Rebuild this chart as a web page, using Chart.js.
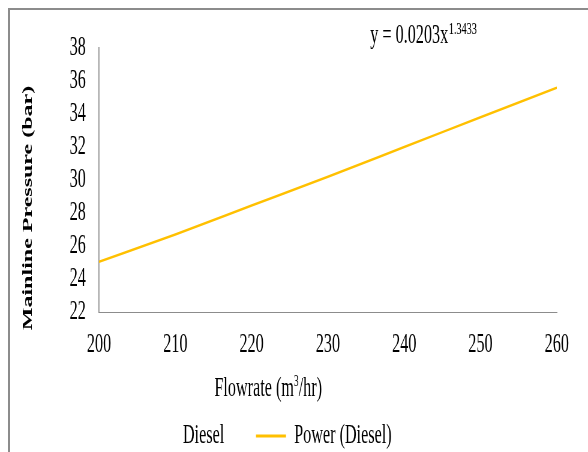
<!DOCTYPE html>
<html>
<head>
<meta charset="utf-8">
<script src="https://cdn.jsdelivr.net/npm/chart.js@4.4.1/dist/chart.umd.min.js"></script>
<style>
  html, body { margin:0; padding:0; background:#fff; overflow:hidden; }
  body { width:588px; height:452px; position:relative; }
  #frame { position:absolute; left:8px; top:8px; width:700px; height:600px; border-left:2px solid #8c8c8c; border-top:2px solid #8c8c8c; }
  /* the reference is squeezed sideways, so draw wide and scale down */
  #wrap { position:absolute; left:0; top:0; width:980px; height:452px; transform:scaleX(0.6); transform-origin:0 0; }
</style>
</head>
<body>
<div id="frame"></div>
<div id="wrap"><canvas id="chart"></canvas></div>
<script>
(function(){
  var flowrate = [200, 210, 220, 230, 240, 250, 260];
  var powerDiesel = [25.05, 26.7, 28.45, 30.2, 32.0, 33.8, 35.6];
  var xTicks = [200, 210, 220, 230, 240, 250, 260];
  var yTicks = [22, 24, 26, 28, 30, 32, 34, 36, 38];
  var seriesNames = ["Diesel", "Power (Diesel)"];
  var xTitle = ["Flowrate (m", "3", "/hr)"];
  var yTitle = "Mainline Pressure (bar)";
  var equation = ["y = 0.0203x", "1.3433"];

  var SERIF = "'Liberation Serif', 'Times New Roman', serif";
  var AXIS = "#8c8c8c";
  var ORANGE = "#ffc000";

  Chart.defaults.font.family = SERIF;
  Chart.defaults.font.size = 27;
  Chart.defaults.color = "#000";

  var textPlugin = {
    id: "texts",
    afterDraw: function(chart){
      var ctx = chart.ctx;
      ctx.save();
      ctx.fillStyle = "#000";
      ctx.textAlign = "left";
      ctx.textBaseline = "alphabetic";

      // trendline equation
      ctx.font = "27px " + SERIF;
      var ex = 617, ey = 43;
      ctx.fillText(equation[0], ex, ey);
      var ew = ctx.measureText(equation[0]).width;
      ctx.font = "17px " + SERIF;
      ctx.fillText(equation[1], ex + ew + 1, ey - 9);

      // x axis title
      ctx.font = "27px " + SERIF;
      var w0 = ctx.measureText(xTitle[0]).width;
      var w2 = ctx.measureText(xTitle[2]).width;
      ctx.font = "16px " + SERIF;
      var w1 = ctx.measureText(xTitle[1]).width;
      var tx = 447 - (w0 + w1 + w2) / 2, ty = 396;
      ctx.font = "27px " + SERIF;
      ctx.fillText(xTitle[0], tx, ty);
      ctx.fillText(xTitle[2], tx + w0 + w1, ty);
      ctx.font = "16px " + SERIF;
      ctx.fillText(xTitle[1], tx + w0, ty - 10);

      // y axis title
      ctx.translate(47, 208);
      ctx.rotate(-Math.PI / 2);
      ctx.font = "bold 24px " + SERIF;
      ctx.textAlign = "center";
      ctx.textBaseline = "middle";
      ctx.fillText(yTitle, 0, 0);
      ctx.restore();
    }
  };

  new Chart(document.getElementById("chart"), {
    type: "line",
    data: {
      datasets: [
        { label: seriesNames[0], data: [], showLine: false, pointRadius: 0,
          borderColor: "rgba(0,0,0,0)", backgroundColor: "rgba(0,0,0,0)" },
        { label: seriesNames[1],
          data: flowrate.map(function(x, i){ return { x: x, y: powerDiesel[i] }; }),
          borderColor: ORANGE, backgroundColor: ORANGE, borderWidth: 2.5,
          pointRadius: 0, fill: false, cubicInterpolationMode: "monotone" }
      ]
    },
    options: {
      responsive: true, maintainAspectRatio: false, animation: false,
      layout: { padding: { left: -34, right: 52, top: 48, bottom: -7.5 } },
      plugins: {
        tooltip: { enabled: false },
        legend: {
          position: "bottom",
          labels: {
            boxWidth: 50, boxHeight: 3, padding: 53,
            font: { size: 27 }, color: "#000",
            generateLabels: function(chart){
              var items = Chart.defaults.plugins.legend.labels.generateLabels(chart);
              items.forEach(function(it){ it.lineWidth = 0; });
              return items;
            }
          }
        }
      },
      scales: {
        x: {
          type: "linear", min: xTicks[0], max: xTicks[xTicks.length - 1],
          afterBuildTicks: function(axis){ axis.ticks = xTicks.map(function(v){ return { value: v }; }); },
          afterFit: function(axis){ axis.height = 57.5; },
          grid: { drawOnChartArea: false, drawTicks: false },
          border: { display: true, color: AXIS, width: 1 },
          ticks: { padding: 17, font: { size: 27 }, color: "#000", maxRotation: 0, autoSkip: false }
        },
        y: {
          min: yTicks[0], max: yTicks[yTicks.length - 1],
          afterBuildTicks: function(axis){ axis.ticks = yTicks.map(function(v){ return { value: v }; }); },
          afterFit: function(axis){ axis.width = 199; },
          grid: { drawOnChartArea: false, drawTicks: false },
          border: { display: true, color: AXIS, width: 1.7 },
          ticks: { padding: 22, font: { size: 27 }, color: "#000", autoSkip: false }
        }
      }
    },
    plugins: [textPlugin]
  });
})();
</script>
</body>
</html>
